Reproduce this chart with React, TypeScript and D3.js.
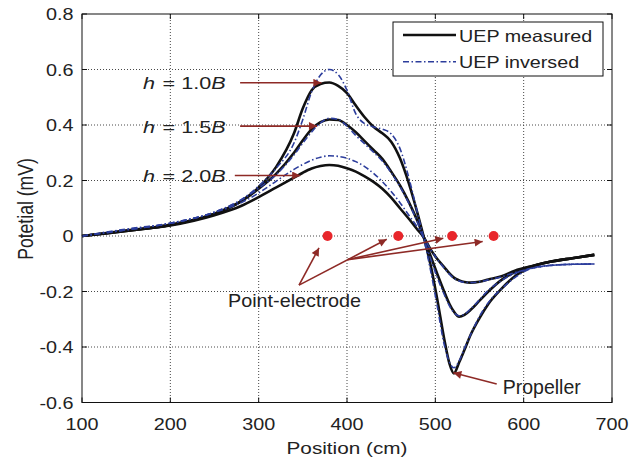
import React from 'react';
import * as d3 from 'd3';

// positions (cm) shared by all six curves
const positions = [100, 150, 200, 250, 280, 300, 320, 340, 350, 360, 370, 380, 390, 400, 410, 420, 430, 440, 450, 460, 470, 480, 487, 495, 502, 510, 516, 521, 527, 533, 540, 550, 560, 575, 590, 610, 630, 655, 680];

// UEP measured (mV)
const measured10 = [0, 0.018, 0.04, 0.08, 0.125, 0.175, 0.25, 0.37, 0.46, 0.525, 0.548, 0.553, 0.541, 0.515, 0.47, 0.428, 0.394, 0.37, 0.34, 0.28, 0.19, 0.08, -0.005, -0.11, -0.225, -0.37, -0.46, -0.495, -0.455, -0.41, -0.356, -0.296, -0.245, -0.19, -0.145, -0.11, -0.093, -0.08, -0.068];
const measured15 = [0, 0.018, 0.04, 0.08, 0.125, 0.17, 0.225, 0.3, 0.345, 0.385, 0.41, 0.42, 0.418, 0.4, 0.374, 0.342, 0.31, 0.278, 0.232, 0.182, 0.122, 0.052, -0.005, -0.075, -0.135, -0.2, -0.245, -0.272, -0.291, -0.284, -0.266, -0.233, -0.2, -0.158, -0.13, -0.108, -0.093, -0.08, -0.068];
const measured20 = [0, 0.02, 0.038, 0.075, 0.108, 0.14, 0.175, 0.21, 0.228, 0.243, 0.252, 0.256, 0.253, 0.244, 0.232, 0.215, 0.195, 0.17, 0.138, 0.1, 0.062, 0.022, -0.005, -0.05, -0.082, -0.112, -0.135, -0.15, -0.16, -0.166, -0.168, -0.165, -0.157, -0.145, -0.125, -0.108, -0.093, -0.08, -0.068];

// UEP inversed (mV)
const inversed10 = [0, 0.022, 0.046, 0.086, 0.13, 0.18, 0.245, 0.335, 0.42, 0.52, 0.58, 0.6, 0.582, 0.525, 0.44, 0.405, 0.393, 0.385, 0.368, 0.315, 0.21, 0.08, -0.01, -0.13, -0.25, -0.39, -0.455, -0.475, -0.45, -0.405, -0.355, -0.29, -0.24, -0.19, -0.15, -0.115, -0.106, -0.102, -0.101];
const inversed15 = [0, 0.022, 0.046, 0.086, 0.13, 0.172, 0.222, 0.292, 0.335, 0.375, 0.408, 0.424, 0.42, 0.396, 0.362, 0.332, 0.302, 0.27, 0.228, 0.178, 0.118, 0.048, -0.01, -0.085, -0.148, -0.21, -0.252, -0.276, -0.288, -0.282, -0.263, -0.23, -0.196, -0.16, -0.135, -0.115, -0.106, -0.102, -0.101];
const inversed20 = [0, 0.025, 0.046, 0.085, 0.12, 0.155, 0.198, 0.24, 0.258, 0.273, 0.284, 0.289, 0.287, 0.28, 0.268, 0.25, 0.226, 0.196, 0.16, 0.12, 0.075, 0.03, -0.005, -0.05, -0.083, -0.115, -0.138, -0.152, -0.162, -0.167, -0.168, -0.165, -0.158, -0.147, -0.132, -0.116, -0.106, -0.102, -0.101];

const xTicks = [100, 200, 300, 400, 500, 600, 700];
const yTicks = [-0.6, -0.4, -0.2, 0, 0.2, 0.4, 0.6, 0.8];

// electrode points on the zero line
const electrodes = [378, 458, 519, 566];

// height labels: [text, label x, label y, arrow start x, arrow end x, arrow y]
const heightLabels: [string, number, number, number, number, number][] = [
  ['1.0', 169, 0.528, 279, 371, 0.552],
  ['1.5', 169, 0.372, 279, 366, 0.396],
  ['2.0', 169, 0.193, 273, 347, 0.218],
];

const W = 642;
const H = 463;
const RED = '#8e2a26';
const BLUE = '#2c3d9c';
const FONT = 'Helvetica, Arial, "Liberation Sans", sans-serif';

const App = () => {
  const x = d3.scaleLinear().domain([100, 700]).range([82, 612]);
  const y = d3.scaleLinear().domain([-0.6, 0.8]).range([402.5, 14]);

  const line = d3.line<number>()
    .x((d, i) => x(positions[i]))
    .y(d => y(d))
    .curve(d3.curveMonotoneX);

  const measured = [measured10, measured15, measured20];
  const inversed = [inversed10, inversed15, inversed20];

  // annotation arrows in data units
  const origin = [345.7, -0.177];
  const junction = [401, -0.085];
  const electrodeArrows = [
    [origin, [368.3, -0.043]],
    [origin, [445, -0.012]],
    [junction, [509, -0.008]],
    [junction, [553.6, -0.02]],
  ];
  const propArrow = [[569.5, -0.533], [520.4, -0.493]];

  return (
    <svg width={W} height={H} style={{ position: 'absolute', left: 0, top: 0, background: '#fff' }} fontFamily={FONT}>
      <defs>
        <marker id="head" viewBox="0 0 10 10" refX="10" refY="5" markerWidth="11" markerHeight="8"
          markerUnits="userSpaceOnUse" orient="auto">
          <path d="M0,0 L10,5 L0,10 z" fill={RED} />
        </marker>
      </defs>

      {/* grid */}
      <g stroke="#333" strokeWidth={0.9} strokeDasharray="1 2">
        {xTicks.slice(1, -1).map(t => (
          <line key={'gx' + t} x1={x(t)} x2={x(t)} y1={y(0.8)} y2={y(-0.6)} />
        ))}
        {yTicks.slice(1, -1).map(t => (
          <line key={'gy' + t} x1={x(100)} x2={x(700)} y1={y(t)} y2={y(t)} />
        ))}
      </g>

      {/* ticks */}
      <g stroke="#111" strokeWidth={1}>
        {xTicks.map(t => (
          <g key={'tx' + t}>
            <line x1={x(t)} x2={x(t)} y1={y(-0.6)} y2={y(-0.6) - 5} />
            <line x1={x(t)} x2={x(t)} y1={y(0.8)} y2={y(0.8) + 5} />
          </g>
        ))}
        {yTicks.map(t => (
          <g key={'ty' + t}>
            <line x1={x(100)} x2={x(100) + 5} y1={y(t)} y2={y(t)} />
            <line x1={x(700)} x2={x(700) - 5} y1={y(t)} y2={y(t)} />
          </g>
        ))}
      </g>

      {/* curves */}
      {measured.map((s, i) => (
        <path key={'m' + i} d={line(s) || ''} fill="none" stroke="#111" strokeWidth={2.6} strokeLinejoin="round" />
      ))}
      {inversed.map((s, i) => (
        <path key={'i' + i} d={line(s) || ''} fill="none" stroke={BLUE} strokeWidth={1.6} strokeDasharray="6 2.5 1.5 2.5" />
      ))}

      {/* frame */}
      <rect x={x(100)} y={y(0.8)} width={x(700) - x(100)} height={y(-0.6) - y(0.8)} fill="none" stroke="#111" strokeWidth={1} />

      {/* tick labels */}
      <g fill="#222" fontSize={16.5}>
        {xTicks.map(t => (
          <text key={'lx' + t} transform={`translate(${x(t)},430) scale(1.2,1)`} textAnchor="middle">{t}</text>
        ))}
        {yTicks.map(t => (
          <text key={'ly' + t} transform={`translate(73.5,${y(t) + 6}) scale(1.2,1)`} textAnchor="end">
            {t === 0 ? '0' : t.toFixed(1)}
          </text>
        ))}
      </g>

      {/* axis titles */}
      <text transform="translate(347,454) scale(1.22,1)" textAnchor="middle" fontSize={17} fill="#222">Position (cm)</text>
      <text transform="translate(32.5,209) rotate(-90) scale(1,1.3)" textAnchor="middle" fontSize={17.6} fill="#222">Potetial (mV)</text>

      {/* legend */}
      <rect x={393} y={22} width={210} height={54} fill="#fff" stroke="#111" strokeWidth={1} />
      <line x1={403} x2={456} y1={35} y2={35} stroke="#111" strokeWidth={2.6} />
      <line x1={403} x2={456} y1={61.7} y2={61.7} stroke={BLUE} strokeWidth={1.6} strokeDasharray="6 2.5 1.5 2.5" />
      <g fill="#222" fontSize={16.3}>
        <text transform="translate(459,41.7) scale(1.21,1)">UEP measured</text>
        <text transform="translate(459,68.3) scale(1.21,1)">UEP inversed</text>
      </g>

      {/* height annotations */}
      {heightLabels.map(([h, lx, ly, ax0, ax1, ay]) => (
        <g key={'h' + h}>
          <text transform={`translate(${x(lx)},${y(ly)}) scale(1.35,1)`} fontSize={16} fill="#222">
            <tspan fontStyle="italic">h</tspan>
            <tspan x={14.5}>= {h}</tspan>
            <tspan fontStyle="italic">B</tspan>
          </text>
          <line x1={x(ax0)} x2={x(ax1)} y1={y(ay)} y2={y(ay)} stroke={RED} strokeWidth={1.6} markerEnd="url(#head)" />
        </g>
      ))}

      {/* electrodes */}
      {electrodes.map(e => (
        <circle key={'e' + e} cx={x(e)} cy={y(0)} r={5} fill="#e8262b" />
      ))}
      {electrodeArrows.map(([a, b], i) => (
        <line key={'ea' + i} x1={x(a[0])} y1={y(a[1])} x2={x(b[0])} y2={y(b[1])} stroke={RED} strokeWidth={1.6}
          markerEnd="url(#head)" />
      ))}
      <text transform={`translate(${x(265.3)},${y(-0.257)}) scale(1.1,1)`} fontSize={18} fill="#222">Point-electrode</text>

      {/* propeller */}
      <line x1={x(propArrow[0][0])} y1={y(propArrow[0][1])} x2={x(propArrow[1][0])} y2={y(propArrow[1][1])}
        stroke={RED} strokeWidth={1.6} markerEnd="url(#head)" />
      <text x={x(576.3)} y={y(-0.569)} fontSize={19.5} fill="#222">Propeller</text>
    </svg>
  );
};

export default App;
